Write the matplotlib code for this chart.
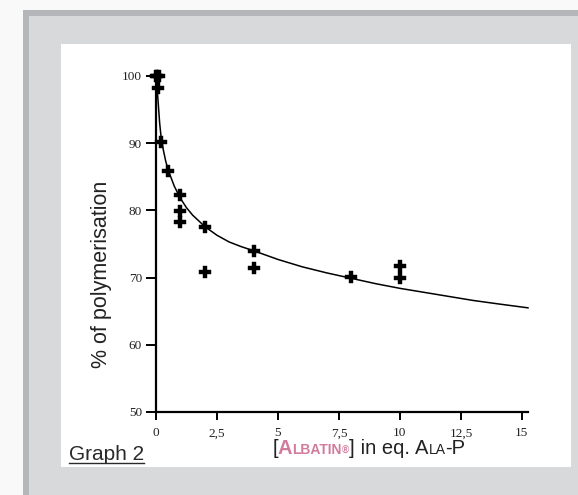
import matplotlib.pyplot as plt
from matplotlib.patches import Rectangle
from matplotlib.lines import Line2D
from matplotlib.offsetbox import TextArea, HPacker, AnnotationBbox

# Measured points (concentration in eq., % of polymerisation)
conc = [0, 0.05, 0.12, 0.1, 0.2, 0.5, 1, 1, 1, 2, 2, 4, 4, 8, 10, 10]
polym = [100, 100, 100, 98.2, 90.2, 85.8, 82.3, 79.9, 78.3, 77.5, 70.8, 73.9, 71.4, 70.1, 71.7, 69.9]

# Fitted curve
fit_x = [0, 0.03, 0.06, 0.1, 0.15, 0.2, 0.3, 0.4, 0.5, 0.75, 1, 1.25, 1.5, 2, 2.5, 3, 3.5,
         4, 5, 6, 7, 8, 9, 10, 11, 12, 13, 14, 15.25]
fit_y = [100, 99, 97.5, 95.5, 93, 91.2, 89, 87.3, 86, 83.6, 81.8, 80.4, 79.3, 77.6, 76.3, 75.3, 74.6,
         74.0, 72.7, 71.6, 70.7, 69.9, 69.1, 68.4, 67.8, 67.2, 66.6, 66.1, 65.5]

x_ticks = [0, 2.5, 5, 7.5, 10, 12.5, 15]
x_tick_labels = ['0', '2,5', '5', '7,5', '10', '12,5', '15']
y_ticks = [50, 60, 70, 80, 90, 100]

W, H = 578, 495
fig = plt.figure(figsize=(W / 100, H / 100), dpi=100)
fig.patch.set_facecolor('#f9f9f9')


def px_rect(x0, y0, x1, y1, color):
    # rectangle given in pixel coords from the top-left corner
    fig.add_artist(Rectangle((x0 / W, 1 - y1 / H), (x1 - x0) / W, (y1 - y0) / H,
                             transform=fig.transFigure, facecolor=color,
                             edgecolor='none', zorder=-3))


px_rect(23, 10, W, H, '#b5b6b9')
px_rect(29, 16, W, H, '#d8d9db')
px_rect(61, 44, 571, 467, 'white')

ax = fig.add_axes([156 / W, 1 - 412 / H, (528 - 156) / W, (412 - 76) / H])
ax.patch.set_alpha(0)
ax.plot(fit_x, fit_y, color='black', lw=1.1, zorder=2, clip_on=False)
ax.plot(conc, polym, linestyle='none', marker='P', ms=8, color='black',
        markeredgewidth=0.3, zorder=3, clip_on=False)

ax.set_xlim(0, 15.25)
ax.set_ylim(50, 100)
ax.spines[['top', 'right']].set_visible(False)
for s in ['left', 'bottom']:
    ax.spines[s].set_linewidth(1.6)
ax.set_xticks(x_ticks)
ax.set_xticklabels(x_tick_labels)
ax.set_yticks(y_ticks)
ax.tick_params(direction='out', length=6, width=1.4, labelsize=9.5, pad=5)
ax.tick_params(axis='y', length=7, pad=3)
for lab in ax.get_xticklabels() + ax.get_yticklabels():
    lab.set_fontfamily('Liberation Serif')
    lab.set_color('#222222')

fig.text(102 / W, 1 - 274 / H, '% of polymerisation', rotation=90,
         family='Liberation Sans', fontsize=15.5, color='#222222',
         ha='center', va='center')

g = fig.text(69 / W, 1 - 460 / H, 'Graph 2', family='Liberation Sans',
             fontsize=15, color='#2a2a2a', ha='left', va='baseline')
fig.canvas.draw()
bb = g.get_window_extent()
fig.add_artist(Line2D([bb.x0 / W, bb.x1 / W], [1 - 462.5 / H] * 2,
                      transform=fig.transFigure, color='#2a2a2a', lw=1.0))

pink = '#d27c9d'
dark = '#222222'
parts = [('[', 14.5, dark, 'normal'), ('A', 14.5, pink, 'bold'), ('LBATIN', 10, pink, 'bold'),
         ('®', 7, pink, 'bold'), (']', 14.5, dark, 'normal'), (' in eq. ', 14.5, dark, 'normal'),
         ('A', 14.5, dark, 'normal'), ('LA', 10, dark, 'normal'), ('-P', 14.5, dark, 'normal')]
areas = [TextArea(t, textprops=dict(family='Liberation Sans', fontsize=fs, color=c,
                                    fontweight=w))
         for t, fs, c, w in parts]
pack = HPacker(children=areas, align='baseline', pad=0, sep=0)
ab = AnnotationBbox(pack, (369, H - 448), xycoords='figure pixels',
                    box_alignment=(0.5, 0.5), frameon=False)
fig.add_artist(ab)

fig.savefig('out.png', dpi=100)
